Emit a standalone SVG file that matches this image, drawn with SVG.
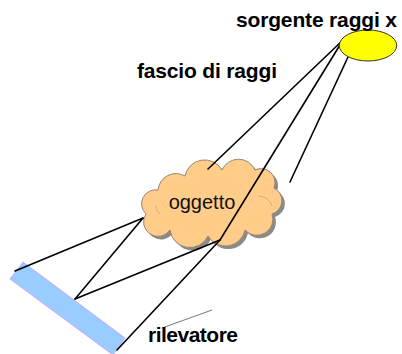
<svg xmlns="http://www.w3.org/2000/svg" width="402" height="354" viewBox="0 0 402 354">
  <style>
    .ray { stroke: #000; stroke-width: 1.6; fill: none; stroke-linecap: round; }
    .label { font-family: "Liberation Sans", Arial, sans-serif; font-weight: bold; font-size: 21px; fill: #000; }
    .obj { font-family: "Liberation Sans", Arial, sans-serif; font-size: 20px; fill: #111; }
    .crease { fill: none; stroke: #c9a27a; stroke-width: 0.8; }
  </style>
  <defs>
    <path id="cloudShape" d="M146,214 A14,14 0 0 1 158,190 A18,18 0 0 1 185,176 A20,20 0 0 1 222,170 A18,18 0 0 1 255,170 A14,14 0 0 1 274,188 A14,14 0 0 1 272,214 A16,16 0 0 1 245,230 A20,20 0 0 1 208,236 A20,20 0 0 1 170,230 A14,14 0 0 1 146,214 Z"/>
  </defs>

  <!-- detector bar -->
  <g id="detector">
    <polygon points="23,262 125,338 113,355 10,279" fill="#99CCFF" stroke="#CC99FF" stroke-width="0.8"/>
  </g>

  <!-- object cloud -->
  <g id="object">
    <use href="#cloudShape" transform="translate(3,3)" fill="#8a8a8a"/>
    <use href="#cloudShape" fill="#FFCC8A" stroke="#9a8472" stroke-width="1"/>
    <path class="crease" d="M258,196 A14,14 0 0 1 272,206"/>
    <path class="crease" d="M156,206 A10,10 0 0 0 160,214"/>
    <text class="obj" x="202" y="209" text-anchor="middle">oggetto</text>
  </g>

  <!-- rays -->
  <g id="connectors">
    <line class="ray" x1="343" y1="40" x2="208" y2="169"/>
    <line class="ray" x1="343" y1="40" x2="220" y2="240"/>
    <line class="ray" x1="348" y1="57" x2="290" y2="182"/>
    <line class="ray" x1="143" y1="218" x2="15" y2="271"/>
    <line class="ray" x1="143" y1="218" x2="75" y2="299"/>
    <line class="ray" x1="220" y1="240" x2="75" y2="299"/>
    <line class="ray" x1="220" y1="240" x2="117" y2="350"/>
    <line x1="212" y1="310" x2="162" y2="328" stroke="#666" stroke-width="0.9"/>
  </g>

  <!-- x-ray source -->
  <g id="source">
    <ellipse cx="368" cy="45.5" rx="28.7" ry="15.5" fill="#FFFF00" stroke="#333" stroke-width="1"/>
  </g>

  <g id="labels">
    <text class="label" x="236" y="27" textLength="161">sorgente raggi x</text>
    <text class="label" x="137" y="78" textLength="140">fascio di raggi</text>
    <text class="label" x="148" y="342" textLength="90">rilevatore</text>
  </g>
</svg>
